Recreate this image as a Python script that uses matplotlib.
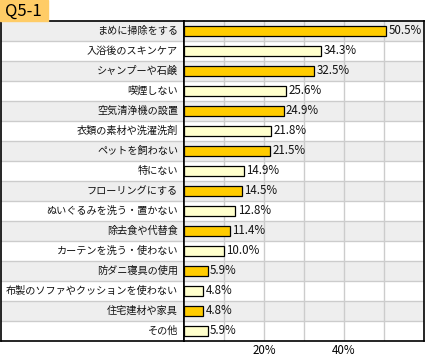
import matplotlib
matplotlib.use("Agg")
import matplotlib.pyplot as plt
from matplotlib.patches import Rectangle

plt.rcParams['font.family'] = ['Noto Sans CJK JP', 'DejaVu Sans']

#####################################
# Data
#####################################

categories = [
    "まめに掃除をする",
    "入浴後のスキンケア",
    "シャンプーや石鹸",
    "喫煙しない",
    "空気清浄機の設置",
    "衣類の素材や洗濯洗剤",
    "ペットを飼わない",
    "特にない",
    "フローリングにする",
    "ぬいぐるみを洗う・置かない",
    "除去食や代替食",
    "カーテンを洗う・使わない",
    "防ダニ寝具の使用",
    "布製のソファやクッションを使わない",
    "住宅建材や家具",
    "その他",
]
values = [50.5, 34.3, 32.5, 25.6, 24.9, 21.8, 21.5, 14.9,
          14.5, 12.8, 11.4, 10.0, 5.9, 4.8, 4.8, 5.9]
tick_values = [20, 40]
title = "Q5-1"

#####################################
# Layout (pixels)
#####################################

W, H = 425, 357
top, bottom = 21, 341
split = 184
n = len(categories)

fig = plt.figure(figsize=(W / 100, H / 100), dpi=100)

ax_lab = fig.add_axes([0.5 / W, (H - bottom) / H, (split - 0.5) / W, (bottom - top) / H])
ax = fig.add_axes([split / W, (H - bottom) / H, (W - 1 - split) / W, (bottom - top) / H])

for a in (ax_lab, ax):
    a.set_ylim(n - 0.5, -0.5)
    for i in range(n):
        if i % 2 == 0:
            a.axhspan(i - 0.5, i + 0.5, color="#EEEEEE", lw=0, zorder=0)
        if i > 0:
            a.axhline(i - 0.5, color="#CCCCCC", lw=1, zorder=1)
    for s in a.spines.values():
        s.set_color("black")
        s.set_linewidth(1.2)
    a.set_yticks([])

ax_lab.set_xlim(0, 1)
ax_lab.set_xticks([])
for i, c in enumerate(categories):
    ax_lab.text(0.968, i, c, ha="right", va="center", fontsize=7.3, color="#111111")

ax.set_xlim(0, 60)
for g in range(10, 60, 10):
    ax.axvline(g, color="#CCCCCC", lw=1, zorder=1)

colors = ["#FFCC00" if i % 2 == 0 else "#FFFFCC" for i in range(n)]
ax.barh(range(n), values, height=0.46, color=colors, edgecolor="black",
        linewidth=0.9, zorder=3)
for i, v in enumerate(values):
    ax.text(v + 0.6, i, f"{v:.1f}%", ha="left", va="center", fontsize=8.3,
            color="#111111", zorder=4)

ax.set_xticks(tick_values)
ax.set_xticklabels([f"{t}%" for t in tick_values], fontsize=8.3)
ax.tick_params(axis="x", length=0, pad=2)

# title tab
fig.patches.append(Rectangle((0, (H - top) / H), 48 / W, top / H,
                             transform=fig.transFigure, color="#FFCC66", zorder=0))
fig.text(5 / W, (H - 11) / H, title, ha="left", va="center", fontsize=12,
         color="black")

fig.savefig("out.png", dpi=100)
